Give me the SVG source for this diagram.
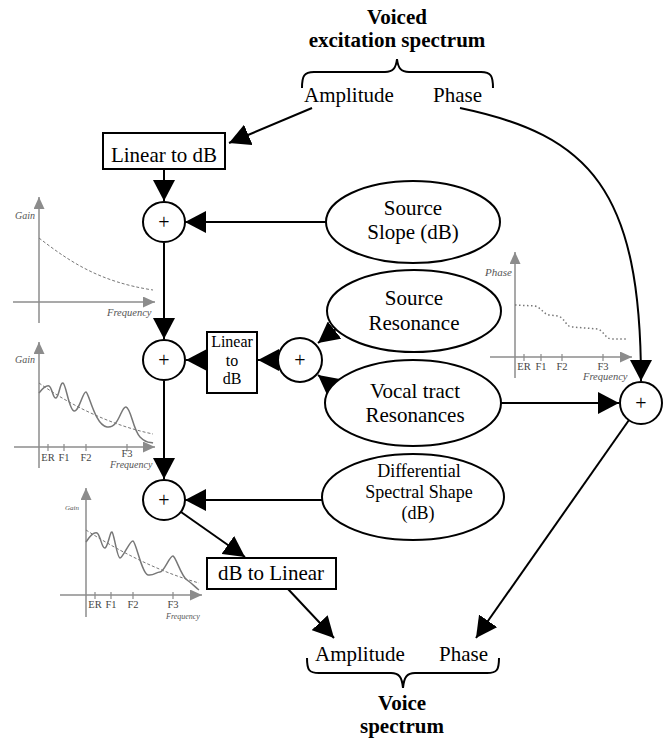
<svg xmlns="http://www.w3.org/2000/svg" width="666" height="742" viewBox="0 0 666 742">
  <style>
    text { font-family: "Liberation Serif", "Times New Roman", serif; fill: #000; }
    .t { font-size: 21px; text-anchor: middle; }
    .tm { font-size: 18px; text-anchor: middle; }
    .ts { font-size: 16px; text-anchor: middle; }
    .title { font-size: 21px; font-weight: bold; text-anchor: middle; }
    .plus { font-size: 20px; text-anchor: middle; }
    .node { fill: #fff; stroke: #000; stroke-width: 2; }
    .conn { fill: none; stroke: #000; stroke-width: 2; }
    .brace { fill: none; stroke: #000; stroke-width: 2; }
    .axis { fill: none; stroke: #8c8c8c; stroke-width: 1.5; }
    .tick { stroke: #8c8c8c; stroke-width: 1.2; }
    .dash { fill: none; stroke: #777; stroke-width: 1; stroke-dasharray: 3 2; }
    .dot { fill: none; stroke: #777; stroke-width: 1.5; stroke-dasharray: 1.5 2.5; }
    .curve { fill: none; stroke: #777; stroke-width: 1.5; }
    .gl { font-style: italic; fill: #555; }
    .tl { fill: #444; font-size: 10.5px; text-anchor: middle; }
  </style>
  <defs>
    <marker id="arrow" markerUnits="userSpaceOnUse" markerWidth="21" markerHeight="22" viewBox="0 0 21 22" refX="21" refY="11" orient="auto">
      <path d="M0,0 L21,11 L0,22 z" fill="#000"/>
    </marker>
    <marker id="garrow" markerUnits="userSpaceOnUse" markerWidth="12" markerHeight="11" viewBox="0 0 12 11" refX="12" refY="5.5" orient="auto">
      <path d="M0,0 L12,5.5 L0,11 z" fill="#8c8c8c"/>
    </marker>
  </defs>

  <!-- headings and braces -->
  <g id="excitation-spectrum">
    <text class="title" x="397" y="24">Voiced</text>
    <text class="title" x="397" y="47">excitation spectrum</text>
    <path class="brace" d="M302,88 C302,76 304,72 314,72 L385,72 C393,72 396,68 397,59 C398,68 401,72 409,72 L481,72 C491,72 493,76 493,88"/>
    <text class="t" x="304" y="102" style="text-anchor:start">Amplitude</text>
    <text class="t" x="433" y="102" style="text-anchor:start">Phase</text>
  </g>

  <g id="voice-spectrum">
    <text class="t" x="315" y="661" style="text-anchor:start">Amplitude</text>
    <text class="t" x="439" y="661" style="text-anchor:start">Phase</text>
    <path class="brace" d="M307,658 C307,670 309,673 319,673 L391,673 C399,673 402,677 403,688 C404,677 407,673 415,673 L487,673 C497,673 499,670 499,658"/>
    <text class="title" x="402" y="710">Voice</text>
    <text class="title" x="402" y="733">spectrum</text>
  </g>

  <!-- connectors -->
  <g id="connectors">
    <path class="conn" d="M312,108 L229,143" marker-end="url(#arrow)"/>
    <path class="conn" d="M164,169 L164,201" marker-end="url(#arrow)"/>
    <path class="conn" d="M326,222 L185,222" marker-end="url(#arrow)"/>
    <path class="conn" d="M164,243 L164,339" marker-end="url(#arrow)"/>
    <path class="conn" d="M207,360 L186,360" marker-end="url(#arrow)"/>
    <path class="conn" d="M278,360 L258,360" marker-end="url(#arrow)"/>
    <path class="conn" d="M336,329 L318,343" marker-end="url(#arrow)"/>
    <path class="conn" d="M336,389 L318,375" marker-end="url(#arrow)"/>
    <path class="conn" d="M164,381 L164,479" marker-end="url(#arrow)"/>
    <path class="conn" d="M322,500 L185,500" marker-end="url(#arrow)"/>
    <path class="conn" d="M181,512 L245,557" marker-end="url(#arrow)"/>
    <path class="conn" d="M288,589 L334,638" marker-end="url(#arrow)"/>
    <path class="conn" d="M460,108 C590,135 641,190 641,381" marker-end="url(#arrow)"/>
    <path class="conn" d="M501,403 L619,403" marker-end="url(#arrow)"/>
    <path class="conn" d="M629,420 L476,638" marker-end="url(#arrow)"/>
  </g>

  <!-- processing boxes -->
  <g id="linear-to-db">
    <rect class="node" x="103" y="133" width="122" height="36"/>
    <text class="t" x="164" y="162">Linear to dB</text>
  </g>
  <g id="linear-to-db-small">
    <rect class="node" x="207" y="332" width="50" height="61"/>
    <text class="ts" x="232" y="347">Linear</text>
    <text class="ts" x="232" y="366">to</text>
    <text class="ts" x="232" y="384">dB</text>
  </g>
  <g id="db-to-linear">
    <rect class="node" x="207" y="558" width="129" height="31"/>
    <text class="t" x="271" y="580">dB to Linear</text>
  </g>

  <!-- summing junctions -->
  <g id="sum-1">
    <ellipse class="node" cx="164" cy="222" rx="21" ry="20"/>
    <text class="plus" x="164" y="229">+</text>
  </g>
  <g id="sum-2">
    <ellipse class="node" cx="164" cy="360" rx="21" ry="20"/>
    <text class="plus" x="164" y="367">+</text>
  </g>
  <g id="sum-3">
    <ellipse class="node" cx="164" cy="500" rx="21" ry="20"/>
    <text class="plus" x="164" y="507">+</text>
  </g>
  <g id="sum-resonance">
    <ellipse class="node" cx="300" cy="360" rx="22" ry="22"/>
    <text class="plus" x="300" y="367">+</text>
  </g>
  <g id="sum-phase">
    <ellipse class="node" cx="641" cy="403" rx="21" ry="21"/>
    <text class="plus" x="641" y="410">+</text>
  </g>

  <!-- parameter sources -->
  <g id="source-slope">
    <ellipse class="node" cx="413" cy="222" rx="87" ry="41"/>
    <text class="t" x="413" y="215">Source</text>
    <text class="t" x="413" y="239">Slope (dB)</text>
  </g>
  <g id="source-resonance">
    <ellipse class="node" cx="414" cy="311" rx="87" ry="41"/>
    <text class="t" x="414" y="305">Source</text>
    <text class="t" x="414" y="330">Resonance</text>
  </g>
  <g id="vocal-tract">
    <ellipse class="node" cx="413" cy="403" rx="88" ry="43"/>
    <text class="t" x="415" y="398">Vocal tract</text>
    <text class="t" x="415" y="422">Resonances</text>
  </g>
  <g id="differential-shape">
    <ellipse class="node" cx="413" cy="497" rx="91" ry="43"/>
    <text class="tm" x="419" y="477">Differential</text>
    <text class="tm" x="419" y="498">Spectral Shape</text>
    <text class="tm" x="418" y="519">(dB)</text>
  </g>

  <!-- spectrum sketches -->
  <g id="graph-slope">
    <path class="axis" d="M39,323 L39,197" marker-end="url(#garrow)"/>
    <path class="axis" d="M13,302 L155,302" marker-end="url(#garrow)"/>
    <path class="dash" d="M39,238 C70,262 100,282 153,290"/>
    <text class="gl" x="15" y="219" font-size="10">Gain</text>
    <text class="gl" x="107" y="316" font-size="10.5">Frequency</text>
  </g>

  <g id="graph-resonances">
    <path class="axis" d="M39,468 L39,342" marker-end="url(#garrow)"/>
    <path class="axis" d="M14,447 L155,447" marker-end="url(#garrow)"/>
    <path class="tick" d="M48,444 V451 M64,444 V451 M86,444 V451 M127,444 V451"/>
    <path class="dash" d="M39,383 C70,405 110,425 153,434"/>
    <path class="curve" d="M39,393 C43,388 46,385 49,386 S53,399 56,398 S60,382 63,383 S69,410 74,411 S83,391 86,392 S95,425 107,427 S121,406 126,407 S133,430 140,437 S150,442 153,443"/>
    <text class="gl" x="15" y="363" font-size="10">Gain</text>
    <text class="tl" x="48" y="461">ER</text>
    <text class="tl" x="64" y="461">F1</text>
    <text class="tl" x="86" y="461">F2</text>
    <text class="tl" x="127" y="457">F3</text>
    <text class="gl" x="110" y="468" font-size="10">Frequency</text>
  </g>

  <g id="graph-shape">
    <path class="axis" d="M86,617 L86,488" marker-end="url(#garrow)"/>
    <path class="axis" d="M60,595 L202,595" marker-end="url(#garrow)"/>
    <path class="tick" d="M95,592 V599 M111,592 V599 M133,592 V599 M173,592 V599"/>
    <path class="dash" d="M86,530 C120,552 160,572 199,583"/>
    <path class="curve" d="M86,542 C90,536 94,532 97,533 S102,549 105,548 S110,531 112,532 S117,558 120,558 S130,540 133,541 S142,574 148,575 S156,572 160,572 S170,555 173,556 S181,576 187,580 S196,588 199,590"/>
    <text class="gl" x="65" y="510" font-size="7">Gain</text>
    <text class="tl" x="95" y="608">ER</text>
    <text class="tl" x="111" y="608">F1</text>
    <text class="tl" x="133" y="608">F2</text>
    <text class="tl" x="173" y="608">F3</text>
    <text class="gl" x="166" y="619" font-size="8">Frequency</text>
  </g>

  <g id="graph-phase">
    <path class="axis" d="M515,378 L515,252" marker-end="url(#garrow)"/>
    <path class="axis" d="M490,357 L632,357" marker-end="url(#garrow)"/>
    <path class="tick" d="M524,354 V361 M541,354 V361 M562,354 V361 M603,354 V361"/>
    <path class="dot" d="M515,305 L535,306 C542,308 544,315 550,315 L558,316 C565,318 566,327 572,327 L598,329 C604,331 605,339 612,339 L626,339"/>
    <text class="gl" x="485" y="276" font-size="11">Phase</text>
    <text class="tl" x="524" y="370">ER</text>
    <text class="tl" x="541" y="370">F1</text>
    <text class="tl" x="562" y="370">F2</text>
    <text class="tl" x="603" y="370">F3</text>
    <text class="gl" x="583" y="380" font-size="10.5">Frequency</text>
  </g>
</svg>
